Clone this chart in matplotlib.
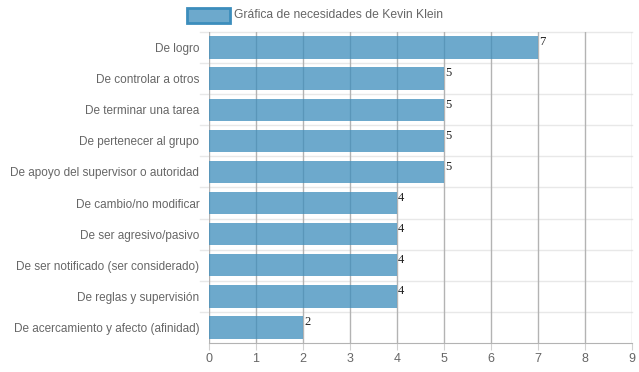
import matplotlib
matplotlib.use("Agg")
import matplotlib.pyplot as plt
from matplotlib.patches import Rectangle

plt.rcParams["font.family"] = ["Liberation Sans", "DejaVu Sans"]

categories = [
    "De logro",
    "De controlar a otros",
    "De terminar una tarea",
    "De pertenecer al grupo",
    "De apoyo del supervisor o autoridad",
    "De cambio/no modificar",
    "De ser agresivo/pasivo",
    "De ser notificado (ser considerado)",
    "De reglas y supervisión",
    "De acercamiento y afecto (afinidad)",
]
values = [7, 5, 5, 5, 5, 4, 4, 4, 4, 2]
x_ticks = list(range(0, 10))
legend_label = "Gráfica de necesidades de Kevin Klein"

W, H = 639, 372
fig = plt.figure(figsize=(W / 100, H / 100), dpi=100)

# plot area in pixels
left, right, top, bottom = 209, 632, 32, 343
ax = fig.add_axes([left / W, 1 - bottom / H, (right - left) / W, (bottom - top) / H])

bar_color = (60 / 255, 141 / 255, 188 / 255, 0.75)
n = len(categories)
ypos = list(range(n))
ax.barh(ypos, values, height=0.72, color=bar_color, zorder=3)

ax.set_xlim(0, 9)
ax.set_ylim(n - 0.5, -0.5)

# vertical grid
for x in x_ticks:
    ax.axvline(x, color="#b3b3b3" if x < 9 else "#d0d0d0", lw=1, zorder=1)
# horizontal category separators, with short ticks into the label area
for i in range(n):
    ax.axhline(i - 0.5, xmin=-9 / (right - left), xmax=1, color="#e8e8e8", lw=1,
               zorder=0, clip_on=False)

for sp in ["top", "right", "left"]:
    ax.spines[sp].set_visible(False)
ax.spines["bottom"].set_color("#b3b3b3")
ax.spines["bottom"].set_zorder(4)

ax.set_xticks(x_ticks)
ax.set_yticks(ypos)
ax.set_yticklabels(categories)
ax.tick_params(axis="y", length=0, pad=7, labelsize=8.5, labelcolor="#666666")
ax.tick_params(axis="x", length=5, color="#d0d0d0", pad=2, labelsize=9, labelcolor="#666666")

for y, v in zip(ypos, values):
    ax.text(v + 0.02, y - 0.36, str(v), ha="left", va="top", fontsize=9,
            family="Liberation Serif", color="#222222", zorder=5)

# legend
fig.patches.append(Rectangle((187 / W, 1 - 23 / H), 43 / W, 15 / H, transform=fig.transFigure,
                             facecolor=bar_color, edgecolor="#3c8dbc", lw=2))
fig.text(234 / W, 1 - 15.5 / H, legend_label, ha="left", va="center", fontsize=8.7, color="#666666")

fig.savefig("out.png", dpi=100)
